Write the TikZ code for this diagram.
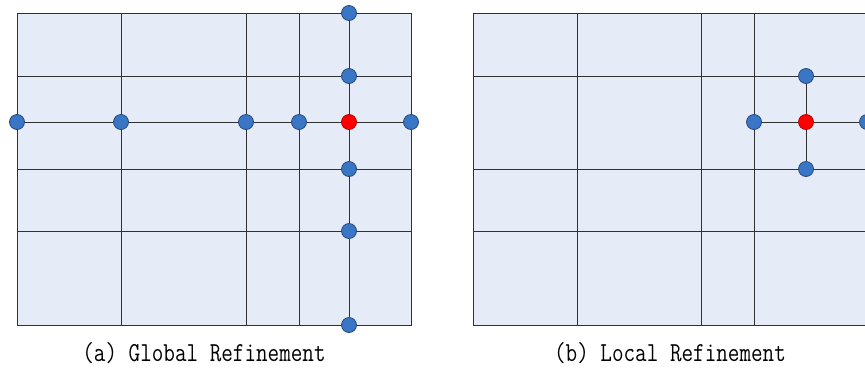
\documentclass[tikz,border=0pt]{standalone}
\usepackage{fontspec}
\definecolor{cellfill}{HTML}{E6ECF7}
\definecolor{gridline}{HTML}{303030}
\definecolor{nodeblue}{HTML}{3A76C6}
\definecolor{nodeblueedge}{HTML}{27497A}
\definecolor{nodered}{HTML}{FF0000}
\definecolor{noderededge}{HTML}{B00000}
\tikzset{
  grid line/.style={draw=gridline, line width=1pt},
  link/.style={draw=gridline, line width=1pt},
  bluept/.style={circle, fill=nodeblue, draw=nodeblueedge, line width=0.8pt, minimum size=15pt, inner sep=0pt},
  redpt/.style={circle, fill=nodered, draw=noderededge, line width=0.8pt, minimum size=15pt, inner sep=0pt},
  caption/.style={font=\fontsize{22.5}{27}\selectfont\ttfamily, anchor=base, inner sep=0pt}
}
\newcommand{\tallcap}[1]{\scalebox{1}[1.22]{#1}}
\begin{document}
\begin{tikzpicture}[x=1pt, y=-1pt]
\useasboundingbox (0,0) rectangle (865,368);
\clip (0,0) rectangle (865,368);
% ---------- panel (a) ----------
\fill[cellfill] (17,13) rectangle (411,325);
\foreach \xx in {121,246,299} \draw[grid line] (\xx,13) -- (\xx,325);
\foreach \yy in {76,169,231} \draw[grid line] (17,\yy) -- (411,\yy);
\draw[grid line] (17,13) rectangle (411,325);
\node[bluept] (a1) at (17,122) {};
\node[bluept] (a2) at (121,122) {};
\node[bluept] (a3) at (246,122) {};
\node[bluept] (a4) at (299,122) {};
\node[redpt]  (ac) at (349,122) {};
\node[bluept] (a5) at (411,122) {};
\node[bluept] (v1) at (349,13) {};
\node[bluept] (v2) at (349,76) {};
\node[bluept] (v3) at (349,169) {};
\node[bluept] (v4) at (349,231) {};
\node[bluept] (v5) at (349,325) {};
\draw[link] (a1) -- (a2) -- (a3) -- (a4) -- (ac) -- (a5);
\draw[link] (v1) -- (v2) -- (ac) -- (v3) -- (v4) -- (v5);
\node[caption] (capa) at (204,361) {\tallcap{(a) Global Refinement}};
% ---------- panel (b) ----------
\fill[cellfill] (473,13) rectangle (867,325);
\foreach \xx in {577,701,754} \draw[grid line] (\xx,13) -- (\xx,325);
\foreach \yy in {76,169,231} \draw[grid line] (473,\yy) -- (867,\yy);
\draw[grid line] (473,13) rectangle (867,325);
\node[bluept] (bl) at (754,122) {};
\node[redpt]  (bc) at (806,122) {};
\node[bluept] (br) at (867,122) {};
\node[bluept] (bt) at (806,76) {};
\node[bluept] (bb) at (806,169) {};
\draw[link] (bl) -- (bc) -- (br);
\draw[link] (bt) -- (bc) -- (bb);
\node[caption] (capb) at (670,361) {\tallcap{(b) Local Refinement}};
\end{tikzpicture}
\end{document}
